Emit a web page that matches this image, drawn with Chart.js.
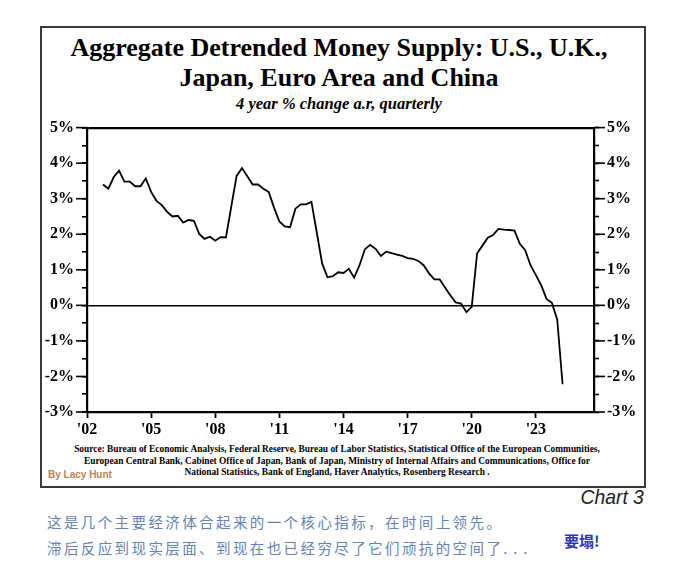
<!DOCTYPE html>
<html>
<head>
<meta charset="utf-8">
<script src="https://cdn.jsdelivr.net/npm/chart.js@4.4.1/dist/chart.umd.min.js"></script>
<style>
  html, body { margin: 0; padding: 0; background: #fff; }
  body { width: 680px; height: 583px; position: relative; overflow: hidden; }
  .box { position: absolute; left: 40px; top: 26px; width: 602px; height: 458px; border: 2px solid #3a3a3a; }
  .serif { font-family: 'Liberation Serif', 'Times New Roman', serif; font-weight: bold; color: #000; }
  #title { position: absolute; left: 0; width: 678px; top: 33px; text-align: center; font-size: 26px; line-height: 30px; }
  #subtitle { position: absolute; left: 0; width: 678px; top: 94px; text-align: center; font-size: 16.5px; font-style: italic; }
  #chartWrap { position: absolute; left: 41px; top: 110px; width: 604px; height: 330px; }
  #source { position: absolute; left: 0; width: 674px; top: 444px; text-align: center; font-size: 9.4px; line-height: 11.5px; }
  #author { position: absolute; left: 48px; top: 469px; font-family: 'Liberation Sans', Arial, sans-serif; font-weight: bold; font-size: 10px; color: #b8825a; }
  #chartNo { position: absolute; right: 36px; top: 485px; font-family: 'Liberation Sans Narrow', 'Liberation Sans', sans-serif; font-style: italic; font-size: 21px; color: #222; transform: scaleX(0.92); transform-origin: right center; }
  .note { position: absolute; left: 47px; font-family: 'Noto Sans CJK SC', sans-serif; font-size: 14.5px; color: #6582b4; letter-spacing: 2.4px; }
  .dots { letter-spacing: 6px; }
  #note1 { top: 511px; }
  #note2 { top: 537px; }
  #shout { position: absolute; left: 564px; top: 530px; font-family: 'Noto Sans CJK SC', sans-serif; font-weight: bold; font-size: 15px; color: #2a36b8; }
</style>
</head>
<body>
<div class="box"></div>
<div id="title" class="serif">Aggregate Detrended Money Supply: U.S., U.K.,<br>Japan, Euro Area and China</div>
<div id="subtitle" class="serif">4 year % change a.r, quarterly</div>
<div id="chartWrap"><canvas id="moneyChart"></canvas></div>
<div id="source" class="serif">Source: Bureau of Economic Analysis, Federal Reserve, Bureau of Labor Statistics, Statistical Office of the European Communities,<br>European Central Bank, Cabinet Office of Japan, Bank of Japan, Ministry of Internal Affairs and Communications, Office for<br>National Statistics, Bank of England, Haver Analytics, Rosenberg Research .</div>
<div id="author">By Lacy Hunt</div>
<div id="chartNo">Chart 3</div>
<div id="note1" class="note">这是几个主要经济体合起来的一个核心指标，在时间上领先。</div>
<div id="note2" class="note">滞后反应到现实层面、到现在也已经穷尽了它们顽抗的空间了<span class="dots">...</span></div>
<div id="shout">要塌!</div>

<script>
/* quarterly readings, first one is 2002 Q4 */
const firstQuarter = 2002.75;
const moneyGrowth = [
  3.40, 3.28, 3.61, 3.79, 3.48, 3.48, 3.35, 3.35, 3.57, 3.19,
  2.94, 2.82, 2.63, 2.50, 2.52, 2.33, 2.40, 2.38, 2.01, 1.87,
  1.93, 1.82, 1.92, 1.91, 2.78, 3.64, 3.86, 3.63, 3.40, 3.40,
  3.28, 3.19, 2.75, 2.36, 2.22, 2.20, 2.72, 2.84, 2.84, 2.91,
  2.05, 1.18, 0.79, 0.82, 0.93, 0.91, 1.03, 0.78, 1.13, 1.58,
  1.70, 1.59, 1.39, 1.51, 1.47, 1.43, 1.39, 1.33, 1.31, 1.25,
  1.13, 0.90, 0.73, 0.73, 0.50, 0.28, 0.08, 0.05, -0.19, -0.04,
  1.46, 1.68, 1.90, 1.98, 2.15, 2.13, 2.12, 2.10, 1.73, 1.55,
  1.13, 0.85, 0.56, 0.18, 0.07, -0.40, -2.22,
];
const xTickYears = [2002, 2005, 2008, 2011, 2014, 2017, 2020, 2023];
const xMin = 2002;
const xMax = 2025.72;
const yMin = -3;
const yMax = 5;

const tickFont = { family: "'Liberation Serif', 'Times New Roman', serif", weight: 'bold', size: 16 };

function yearLabel(v) {
  return "'" + String(v).slice(2);
}

function pctLabel(v) {
  return Number.isInteger(v) ? v + '%' : '';
}

/* labelled ticks are drawn longer than the half-step ones */
const longTicks = {
  id: 'longTicks',
  afterDraw(chart) {
    const { ctx } = chart;
    ['y', 'y2'].forEach((id) => {
      const scale = chart.scales[id];
      const edge = id === 'y' ? scale.right : scale.left;
      const dir = id === 'y' ? -1 : 1;
      ctx.save();
      ctx.strokeStyle = '#000';
      ctx.lineWidth = 1.6;
      scale.ticks.forEach((t) => {
        if (!Number.isInteger(t.value)) return;
        const py = scale.getPixelForValue(t.value);
        ctx.beginPath();
        ctx.moveTo(edge, py);
        ctx.lineTo(edge + dir * 11, py);
        ctx.stroke();
      });
      ctx.restore();
    });
  },
};

function moneyChart() {
  const points = moneyGrowth.map((v, i) => ({ x: firstQuarter + i / 4, y: v }));

  const yGrid = {
    drawOnChartArea: true,
    color: (ctx) => (ctx.tick && (ctx.tick.value === 0 || ctx.tick.value === yMax) ? '#000' : 'rgba(0,0,0,0)'),
    lineWidth: (ctx) => (ctx.tick && ctx.tick.value === yMax ? 2.2 : 1.6),
    tickColor: '#000',
    tickLength: 5,
    tickWidth: 1.6,
  };

  const config = {
    type: 'line',
    data: {
      datasets: [{
        data: points,
        borderColor: '#000',
        borderWidth: 1.8,
        pointRadius: 0,
        tension: 0,
        fill: false,
      }],
    },
    options: {
      animation: false,
      responsive: true,
      maintainAspectRatio: false,
      layout: { padding: { top: 14, left: 0, right: 0, bottom: 0 } },
      plugins: { legend: { display: false }, tooltip: { enabled: false } },
      scales: {
        x: {
          type: 'linear',
          min: xMin,
          max: xMax,
          afterBuildTicks: (scale) => { scale.ticks = xTickYears.map((v) => ({ value: v })); },
          afterFit: (scale) => { scale.height = 28; },
          border: { display: true, color: '#000', width: 2.2 },
          grid: { drawOnChartArea: false, tickColor: '#000', tickLength: 6, tickWidth: 1.8 },
          ticks: { callback: yearLabel, font: tickFont, color: '#000', padding: 2, maxRotation: 0, autoSkip: false },
        },
        y: {
          position: 'left',
          min: yMin,
          max: yMax,
          afterFit: (scale) => { scale.width = 46; },
          border: { display: true, color: '#000', width: 2.2 },
          grid: yGrid,
          ticks: { stepSize: 0.5, callback: pctLabel, font: tickFont, color: '#000', padding: 8, autoSkip: false },
        },
        y2: {
          position: 'right',
          min: yMin,
          max: yMax,
          afterFit: (scale) => { scale.width = 51; },
          border: { display: true, color: '#000', width: 2.2 },
          grid: { drawOnChartArea: false, tickColor: '#000', tickLength: 5, tickWidth: 1.6 },
          ticks: { stepSize: 0.5, callback: pctLabel, font: tickFont, color: '#000', padding: 8, autoSkip: false },
        },
      },
    },
    plugins: [longTicks],
  };

  return new Chart(document.getElementById('moneyChart'), config);
}

document.addEventListener('DOMContentLoaded', moneyChart);
</script>
</body>
</html>
